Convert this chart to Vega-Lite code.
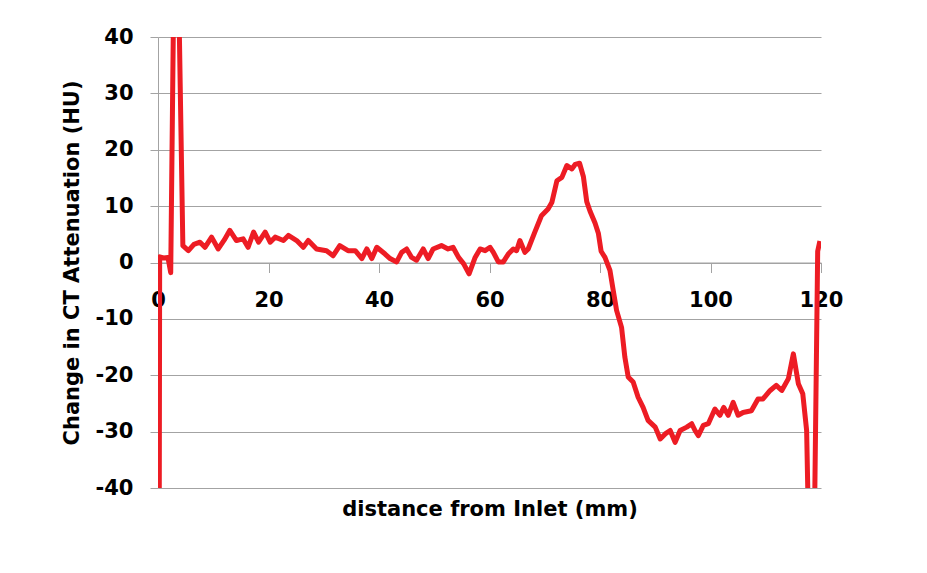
{
  "$schema": "https://vega.github.io/schema/vega-lite/v6.json",
  "width": 663,
  "height": 451,
  "autosize": {"type": "none"},
  "padding": {"left": 158, "top": 37, "right": 106, "bottom": 85},
  "background": "white",
  "config": {
    "view": {"stroke": null},
    "axis": {
      "gridColor": "#a3a3a3",
      "domainColor": "#a3a3a3",
      "tickColor": "#a3a3a3",
      "labelFont": "DejaVu Sans",
      "labelFontWeight": "bold",
      "labelFontSize": 21,
      "labelColor": "#000000",
      "titleFont": "DejaVu Sans",
      "titleFontWeight": "bold",
      "titleFontSize": 21,
      "titleColor": "#000000"
    }
  },
  "data": {
    "values": [
      {"d": 0.2, "hu": -60}, {"d": 0.3, "hu": 1}, {"d": 1.0, "hu": 0.8}, {"d": 1.8, "hu": 0.9},
      {"d": 2.3, "hu": -1.8}, {"d": 3.2, "hu": 80}, {"d": 4.5, "hu": 3},
      {"d": 5.5, "hu": 2.1}, {"d": 6.5, "hu": 3.2}, {"d": 7.6, "hu": 3.6}, {"d": 8.5, "hu": 2.7},
      {"d": 9.7, "hu": 4.5}, {"d": 10.9, "hu": 2.4}, {"d": 12, "hu": 4}, {"d": 13, "hu": 5.7},
      {"d": 14.2, "hu": 3.9}, {"d": 15.4, "hu": 4.2}, {"d": 16.3, "hu": 2.7}, {"d": 17.3, "hu": 5.4},
      {"d": 18.2, "hu": 3.6}, {"d": 19.4, "hu": 5.4}, {"d": 20.3, "hu": 3.6}, {"d": 21.2, "hu": 4.5},
      {"d": 22.7, "hu": 3.9}, {"d": 23.6, "hu": 4.8}, {"d": 25.1, "hu": 3.9}, {"d": 26.3, "hu": 2.7},
      {"d": 27.2, "hu": 3.9}, {"d": 28.7, "hu": 2.4}, {"d": 30.5, "hu": 2.1}, {"d": 31.7, "hu": 1.2},
      {"d": 32.9, "hu": 3.0}, {"d": 34.4, "hu": 2.1}, {"d": 35.7, "hu": 2.1}, {"d": 36.9, "hu": 0.7},
      {"d": 37.8, "hu": 2.4}, {"d": 38.7, "hu": 0.7}, {"d": 39.6, "hu": 2.7}, {"d": 41.1, "hu": 1.5},
      {"d": 42, "hu": 0.7}, {"d": 43.2, "hu": 0.1}, {"d": 44.1, "hu": 1.8}, {"d": 45, "hu": 2.4},
      {"d": 45.9, "hu": 0.9}, {"d": 46.8, "hu": 0.4}, {"d": 48, "hu": 2.4}, {"d": 48.9, "hu": 0.7},
      {"d": 49.8, "hu": 2.4}, {"d": 51.3, "hu": 3.0}, {"d": 52.5, "hu": 2.4}, {"d": 53.4, "hu": 2.7},
      {"d": 54.4, "hu": 0.9}, {"d": 55.3, "hu": -0.2}, {"d": 56.3, "hu": -2.0}, {"d": 57.4, "hu": 0.9},
      {"d": 58.3, "hu": 2.4}, {"d": 59.2, "hu": 2.1}, {"d": 60.1, "hu": 2.7}, {"d": 60.7, "hu": 1.8},
      {"d": 61.6, "hu": 0.1}, {"d": 62.5, "hu": 0.1}, {"d": 63.4, "hu": 1.5}, {"d": 64.3, "hu": 2.4},
      {"d": 64.9, "hu": 2.1}, {"d": 65.5, "hu": 3.9}, {"d": 66.4, "hu": 1.8}, {"d": 67, "hu": 2.4},
      {"d": 68.2, "hu": 5.4}, {"d": 69.4, "hu": 8.3}, {"d": 70.6, "hu": 9.5}, {"d": 71.3, "hu": 10.7},
      {"d": 72.2, "hu": 14.5}, {"d": 73.1, "hu": 15.1}, {"d": 74, "hu": 17.2}, {"d": 74.9, "hu": 16.6},
      {"d": 75.5, "hu": 17.4}, {"d": 76.3, "hu": 17.6}, {"d": 77, "hu": 15.2}, {"d": 77.6, "hu": 10.8},
      {"d": 78.2, "hu": 9.1}, {"d": 79.1, "hu": 7}, {"d": 79.7, "hu": 5.2}, {"d": 80.2, "hu": 2},
      {"d": 80.9, "hu": 0.9}, {"d": 81.8, "hu": -1.4}, {"d": 82.4, "hu": -5}, {"d": 83, "hu": -8.5},
      {"d": 83.9, "hu": -11.5}, {"d": 84.5, "hu": -16.8}, {"d": 85.1, "hu": -20.3}, {"d": 86, "hu": -21.2},
      {"d": 86.9, "hu": -23.9}, {"d": 87.8, "hu": -25.7}, {"d": 88.7, "hu": -28}, {"d": 90, "hu": -29.2},
      {"d": 90.9, "hu": -31.3}, {"d": 91.8, "hu": -30.4}, {"d": 92.7, "hu": -29.8}, {"d": 93.6, "hu": -31.9},
      {"d": 94.5, "hu": -29.8}, {"d": 95.7, "hu": -29.2}, {"d": 96.6, "hu": -28.6}, {"d": 97.2, "hu": -29.8},
      {"d": 97.8, "hu": -30.7}, {"d": 98.7, "hu": -28.9}, {"d": 99.6, "hu": -28.6}, {"d": 100.8, "hu": -26},
      {"d": 101.7, "hu": -27.1}, {"d": 102.4, "hu": -25.7}, {"d": 103.2, "hu": -27.1}, {"d": 104.1, "hu": -24.8},
      {"d": 105, "hu": -27.1}, {"d": 105.9, "hu": -26.6}, {"d": 107.4, "hu": -26.3}, {"d": 108.6, "hu": -24.2},
      {"d": 109.5, "hu": -24.2}, {"d": 110.8, "hu": -22.7}, {"d": 111.9, "hu": -21.8}, {"d": 112.9, "hu": -22.7},
      {"d": 114.1, "hu": -20.6}, {"d": 115, "hu": -16.2}, {"d": 115.9, "hu": -21.5}, {"d": 116.7, "hu": -23.3},
      {"d": 117.4, "hu": -29.8}, {"d": 118.4, "hu": -80}, {"d": 119.4, "hu": 2}, {"d": 119.8, "hu": 3.8}
    ]
  },
  "mark": {"type": "line", "color": "#ed1c24", "strokeWidth": 5, "clip": true, "strokeJoin": "round"},
  "encoding": {
    "x": {
      "field": "d",
      "type": "quantitative",
      "scale": {"domain": [0, 120], "nice": false, "zero": false},
      "axis": {
        "orient": "bottom",
        "offset": -225.5,
        "values": [0, 20, 40, 60, 80, 100, 120],
        "grid": false,
        "tickSize": 10,
        "labelPadding": 17,
        "labelFlush": false,
        "title": "distance from Inlet (mm)",
        "titleY": 247,
        "titleBaseline": "middle"
      }
    },
    "y": {
      "field": "hu",
      "type": "quantitative",
      "scale": {"domain": [-40, 40], "nice": false, "zero": false},
      "axis": {
        "values": [-40, -30, -20, -10, 0, 10, 20, 30, 40],
        "labelExpr": "datum.value < 0 ? '-' + abs(datum.value) : '' + datum.value",
        "grid": true,
        "tickSize": 8,
        "labelPadding": 17,
        "title": "Change in CT Attenuation (HU)",
        "titleX": -86,
        "titleY": 225.5,
        "titleAngle": -90,
        "titleAlign": "center",
        "titleBaseline": "middle"
      }
    }
  }
}
